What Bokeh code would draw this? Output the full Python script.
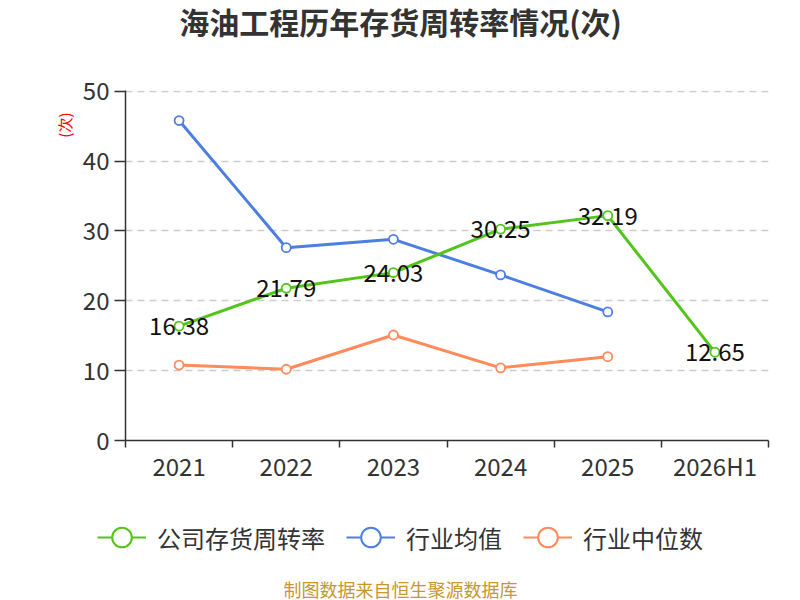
import math
from bokeh.plotting import figure
from bokeh.layouts import column
from bokeh.models import (ColumnDataSource, FixedTicker, Legend, LegendItem, Range1d, Title)
from bokeh.core.properties import value
from bokeh.embed import file_html
from bokeh.resources import INLINE

categories = ["2021", "2022", "2023", "2024", "2025", "2026H1"]
company = [16.38, 21.79, 24.03, 30.25, 32.19, 12.65]
industry_mean = [45.8, 27.6, 28.8, 23.7, 18.4]
industry_median = [10.8, 10.2, 15.1, 10.4, 12.0]
y_ticks = [0, 10, 20, 30, 40, 50]
series_names = ["公司存货周转率", "行业均值", "行业中位数"]
title_text = "海油工程历年存货周转率情况(次)"
source_text = "制图数据来自恒生聚源数据库"

FONT = "Noto Sans CJK SC"
GREEN = "#52c41a"
BLUE = "#4d7fe0"
ORANGE = "#ff8a5b"
W = 784


def blank(height):
    f = figure(width=W, height=height, output_backend="svg", toolbar_location=None,
               x_range=Range1d(0, W), y_range=Range1d(0, height),
               min_border_left=0, min_border_right=0, min_border_top=0, min_border_bottom=0)
    f.frame_align = False
    f.axis.visible = False
    f.grid.visible = False
    f.outline_line_color = None
    return f


# header with title
HH = 56
header = blank(HH)
header.text(x=[400], y=[HH - 20], text=[title_text], text_align="center", text_baseline="middle",
            text_font=value(FONT), text_font_size="30px", text_font_style="bold", text_color="#333333")

xs = list(range(len(categories)))

p = figure(width=W, height=436, output_backend="svg", toolbar_location=None,
           x_range=Range1d(-0.5, len(categories) - 0.5), y_range=Range1d(0, 50.1),
           min_border_left=125, min_border_right=16, min_border_top=34, min_border_bottom=52)
p.frame_align = False
p.outline_line_color = None

# axes
p.xaxis.ticker = FixedTicker(ticks=xs, minor_ticks=[x - 0.5 for x in xs] + [len(xs) - 0.5])
p.xaxis.major_label_overrides = {i: c for i, c in enumerate(categories)}
p.xaxis.major_tick_line_color = None
p.xaxis.major_tick_out = 5
p.xaxis.minor_tick_line_color = "#333333"
p.xaxis.minor_tick_line_width = 1.5
p.xaxis.minor_tick_out = 7
p.xaxis.minor_tick_in = 0
p.xaxis.axis_line_color = "#333333"
p.xaxis.axis_line_width = 1.5
p.xaxis.major_label_text_font = FONT
p.xaxis.major_label_text_font_size = "24px"
p.xaxis.major_label_text_color = "#333333"
p.xaxis.major_label_standoff = 0

p.yaxis.ticker = FixedTicker(ticks=y_ticks)
p.yaxis.minor_tick_line_color = None
p.yaxis.major_tick_out = 11
p.yaxis.major_tick_in = 0
p.yaxis.major_tick_line_color = "#333333"
p.yaxis.major_tick_line_width = 1.5
p.yaxis.axis_line_color = "#333333"
p.yaxis.axis_line_width = 1.5
p.yaxis.major_label_text_font = FONT
p.yaxis.major_label_text_font_size = "24px"
p.yaxis.major_label_text_color = "#333333"
p.yaxis.major_label_standoff = 5

p.xgrid.grid_line_color = None
p.ygrid.grid_line_color = "#cccccc"
p.ygrid.grid_line_dash = "7 5"
p.ygrid.grid_line_width = 1.5

# y axis unit label
p.add_layout(Title(text="(次)", align="right", offset=22, standoff=10, text_color="red",
                   text_font=FONT, text_font_size="15px", text_font_style="normal"), "left")

src_c = ColumnDataSource(dict(x=xs, y=company, t=[f"{v:.2f}" for v in company]))
src_m = ColumnDataSource(dict(x=xs[:len(industry_mean)], y=industry_mean))
src_d = ColumnDataSource(dict(x=xs[:len(industry_median)], y=industry_median))

for src, col in [(src_d, ORANGE), (src_m, BLUE), (src_c, GREEN)]:
    p.line("x", "y", source=src, line_color=col, line_width=3)
    p.scatter("x", "y", source=src, size=9, fill_color="white", line_color=col, line_width=1.8)

p.text("x", "y", text="t", source=src_c, text_align="center", text_baseline="middle",
       text_font=value(FONT), text_font_size="24px", text_color="#111111")

# footer with legend and data source note
FH = 108
footer = blank(FH)
items = []
for name, col in zip(series_names, [GREEN, BLUE, ORANGE]):
    r1 = footer.line(x=[-100, -90], y=[-100, -100], line_color=col, line_width=2)
    r2 = footer.scatter(x=[-100], y=[-100], size=21, fill_color="white", line_color=col, line_width=2)
    items.append(LegendItem(label=name, renderers=[r1, r2]))

legend = Legend(items=items, orientation="horizontal", location=(97, 37),
                label_text_font=FONT, label_text_font_size="24px", label_text_color="#333333",
                glyph_width=49, glyph_height=52, spacing=21, label_standoff=11,
                padding=0, margin=0, border_line_color=None, background_fill_alpha=0)
footer.add_layout(legend, "center")
footer.text(x=[400], y=[12], text=[source_text], text_align="center", text_baseline="middle",
            text_font=value(FONT), text_font_size="18px", text_color="#c8962e")

layout = column(header, p, footer, spacing=0)
open("out.html", "w").write(file_html(layout, INLINE))
